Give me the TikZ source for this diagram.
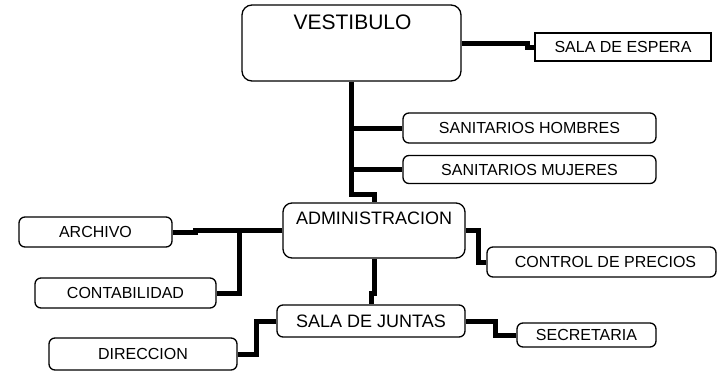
\documentclass[tikz,border=0pt]{standalone}
\usepackage{fontspec}
\setmainfont{Liberation Sans}
\usetikzlibrary{backgrounds}
\tikzset{
  box/.style={draw=black, fill=white, line width=1.3pt, rounded corners=6pt, inner sep=0pt,
              font=\fontsize{16}{18}\selectfont},
  sqbox/.style={box, rounded corners=0pt},
  conn/.style={line width=5pt, line join=miter},
  bigtext/.style={inner sep=0pt},
}
\begin{document}
\begin{tikzpicture}[x=1pt,y=-1pt]
\useasboundingbox (0,0) rectangle (717,372);
% boxes
\node[box, rounded corners=10pt, minimum width=219pt, minimum height=76pt] (vest) at (351.5,43) {};
\node[bigtext, font=\fontsize{21}{24}\selectfont] (vestT) at (352.5,22.5) {VESTIBULO};
\node[sqbox, minimum width=176pt, minimum height=28pt] (espera) at (623,47) {SALA DE ESPERA};
\node[box, minimum width=253pt, minimum height=30pt] (sanh) at (529.5,128) {SANITARIOS HOMBRES};
\node[box, minimum width=253pt, minimum height=28pt] (sanm) at (529.5,169.5) {SANITARIOS MUJERES};
\node[box, rounded corners=9pt, minimum width=182pt, minimum height=55pt] (admin) at (374,230.5) {};
\node[bigtext, font=\fontsize{18}{21}\selectfont] (adminT) at (374,218.5) {ADMINISTRACION};
\node[box, minimum width=229pt, minimum height=30pt] (control) at (601.5,262) {\hspace*{8pt}CONTROL DE PRECIOS};
\node[box, minimum width=153pt, minimum height=30pt] (archivo) at (95.5,232) {ARCHIVO};
\node[box, minimum width=181pt, minimum height=30pt] (contab) at (125.5,293) {CONTABILIDAD};
\node[box, minimum width=188pt, minimum height=32pt, font=\fontsize{18}{21}\selectfont] (juntas) at (371,321) {SALA DE JUNTAS};
\node[box, minimum width=188pt, minimum height=32pt] (direccion) at (143,354) {DIRECCION};
\node[box, minimum width=139pt, minimum height=24pt] (secretaria) at (586.5,335) {SECRETARIA};
% connectors
\begin{scope}[on background layer]
\draw[conn] (vest.east) -- ++(66,0) |- (espera.west);
\draw[conn] (vest.south) -- (vest.south |- 0,194) -| (admin.north);
\draw[conn] (vest.south |- sanh.west) -- (sanh.west);
\draw[conn] (vest.south |- sanm.west) -- (sanm.west);
\draw[conn] (admin.east) -- ++(13,0) |- (control.west);
\draw[conn] (admin.west) -- ++(-87,0) |- (archivo.east);
\draw[conn] (admin.west) -- ++(-43,0) |- (contab.east);
\draw[conn] (admin.south) -- ++(0,35) -| (juntas.north);
\draw[conn] (juntas.west) -- ++(-20,0) |- (direccion.east);
\draw[conn] (juntas.east) -- ++(30,0) |- (secretaria.west);
\end{scope}
\end{tikzpicture}
\end{document}
